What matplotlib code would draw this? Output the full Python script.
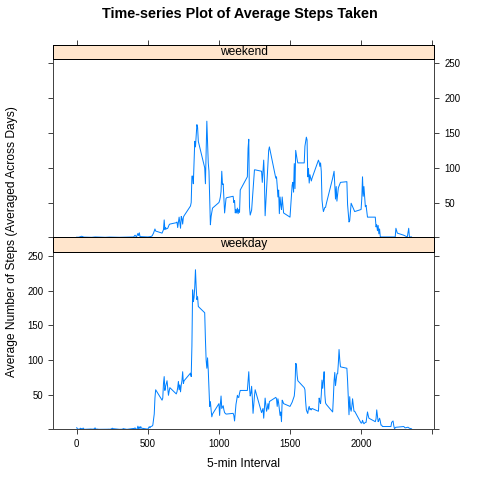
import numpy as np
import matplotlib
matplotlib.use("Agg")
import matplotlib.pyplot as plt

plt.rcParams['font.family'] = ['Liberation Sans', 'DejaVu Sans']

# average steps per 5-min interval
weekend_interval = [0, 10, 20, 35, 50, 105, 130, 200, 230, 300, 350, 400, 410, 420, 430, 435, 440, 445,
                    500, 520, 530, 540, 550, 555, 600, 610, 615, 620, 625, 630, 640, 650, 655,
                    700, 705, 710, 720, 730, 735, 740, 745, 750, 755, 800, 805, 810, 815, 820, 830, 835,
                    845, 850, 855, 900, 905, 910, 915, 925, 930, 940, 945, 955,
                    1000, 1005, 1010, 1015, 1020, 1025, 1030, 1040, 1050, 1055, 1100, 1105, 1110, 1115,
                    1120, 1125, 1130, 1135, 1140, 1145, 1150, 1200, 1205, 1210, 1215, 1220, 1230, 1250, 1255,
                    1300, 1305, 1315, 1320, 1325, 1330, 1350, 1355, 1400, 1405, 1410, 1415, 1420, 1425,
                    1430, 1435, 1440, 1445, 1450, 1455, 1500, 1515, 1520, 1525, 1530, 1535, 1540, 1545,
                    1550, 1555, 1600, 1605, 1615, 1620, 1625, 1630, 1635, 1640, 1650, 1655,
                    1700, 1705, 1710, 1715, 1720, 1725, 1730, 1735, 1740, 1745, 1750, 1755,
                    1800, 1810, 1820, 1825, 1830, 1840, 1855, 1900, 1905, 1915, 1920, 1930, 1945, 1955,
                    2000, 2005, 2010, 2015, 2020, 2030, 2035, 2045, 2100, 2105, 2110, 2115, 2120, 2125,
                    2130, 2135, 2140, 2200, 2240, 2245, 2255, 2300, 2325, 2335, 2340, 2355]
weekend_steps = [0.2, 0.0, 0.5, 1.5, 0.3, 0.0, 0.5, 0.0, 0.3, 0.0, 0.3, 0.5, 3.0, 0.5, 5.5, 2.5, 6.5, 1.0,
                 0.5, 1.0, 2.0, 6.0, 12.0, 9.0, 6.0, 11.0, 25.0, 11.0, 14.0, 12.0, 13.0, 18.0, 19.0,
                 21.0, 22.0, 14.0, 29.0, 13.0, 30.0, 27.0, 19.0, 29.0, 31.0, 45.0, 50.0, 88.0, 88.0, 77.0, 138.0, 130.0,
                 162.0, 158.0, 138.0, 100.0, 77.0, 125.0, 167.0, 107.0, 95.0, 18.0, 30.0, 42.0,
                 50.0, 53.0, 58.0, 66.0, 95.0, 76.0, 77.0, 35.0, 56.0, 57.0, 59.0, 50.0, 53.0, 35.0,
                 40.0, 35.0, 42.0, 34.0, 40.0, 36.0, 68.0, 87.0, 128.0, 141.0, 44.0, 32.0, 39.0, 97.0, 97.0,
                 95.0, 79.0, 111.0, 84.0, 31.0, 50.0, 125.0, 130.0, 85.0, 87.0, 74.0, 58.0, 68.0, 34.0,
                 58.0, 47.0, 40.0, 58.0, 47.0, 35.0, 29.0, 75.0, 79.0, 65.0, 106.0, 70.0, 125.0, 118.0,
                 112.0, 107.0, 107.0, 131.0, 144.0, 140.0, 87.0, 99.0, 78.0, 90.0, 81.0, 85.0,
                 111.0, 108.0, 102.0, 107.0, 95.0, 54.0, 44.0, 37.0, 40.0, 43.0, 43.0, 48.0,
                 85.0, 95.0, 55.0, 73.0, 52.0, 71.0, 79.0, 80.0, 47.0, 22.0, 24.0, 49.0, 42.0, 37.0,
                 40.0, 56.0, 87.0, 59.0, 73.0, 44.0, 46.0, 29.0, 29.0, 15.0, 18.0, 9.5, 17.0, 5.0,
                 12.0, 1.0, 0.5, 0.5, 0.5, 13.0, 6.0, 3.0, 0.5, 13.0, 0.5, 0.5]

weekday_interval = [0, 5, 10, 15, 20, 25, 30, 35, 40, 45, 50, 55, 100, 110, 115, 120, 125, 130, 135, 145, 155,
                    200, 215, 225, 230, 235, 240, 250, 255, 300, 320, 325, 330, 335, 340, 350, 355,
                    400, 405, 410, 415, 420, 425, 430, 435, 440, 445, 450, 455,
                    500, 505, 510, 515, 520, 525, 530, 535, 540, 545, 550, 555,
                    600, 605, 610, 615, 620, 625, 630, 635, 640, 645, 650, 655,
                    700, 705, 710, 715, 720, 725, 730, 735, 740, 745, 750, 755,
                    800, 805, 810, 815, 820, 825, 830, 835, 840, 845, 850, 855,
                    900, 905, 910, 915, 920, 925, 930, 935, 940, 945, 950, 955,
                    1000, 1005, 1010, 1015, 1020, 1025, 1030, 1035, 1040, 1045, 1050, 1055,
                    1100, 1105, 1110, 1115, 1120, 1125, 1130, 1135, 1140, 1145, 1150, 1155,
                    1200, 1205, 1210, 1215, 1220, 1225, 1230, 1235, 1240, 1245, 1250, 1255,
                    1300, 1305, 1310, 1315, 1320, 1325, 1330, 1335, 1340, 1345, 1350, 1355,
                    1400, 1405, 1410, 1415, 1420, 1425, 1430, 1435, 1440, 1445, 1450, 1455,
                    1500, 1505, 1510, 1515, 1520, 1525, 1530, 1535, 1540, 1545, 1550, 1555,
                    1600, 1605, 1610, 1615, 1620, 1625, 1630, 1635, 1640, 1645, 1650, 1655,
                    1700, 1705, 1710, 1715, 1720, 1725, 1730, 1735, 1740, 1745, 1750, 1755,
                    1800, 1805, 1810, 1815, 1820, 1825, 1830, 1835, 1840, 1845, 1850, 1855,
                    1900, 1905, 1910, 1915, 1920, 1925, 1930, 1935, 1940, 1945, 1950, 1955,
                    2000, 2005, 2010, 2015, 2020, 2025, 2030, 2035, 2040, 2045, 2050, 2055,
                    2100, 2105, 2110, 2115, 2120, 2125, 2130, 2135, 2140, 2145, 2150, 2155,
                    2200, 2210, 2215, 2225, 2230, 2235, 2245, 2250, 2300, 2310, 2320, 2330, 2340, 2355]
weekday_steps = [2.3, 0.4, 0.2, 0.2, 0.1, 1.6, 0.7, 1.1, 0.0, 1.8, 0.4, 0.0, 0.4, 0.2, 0.4, 0.0, 1.5, 1.9, 0.2, 0.3, 0.0,
                 0.0, 0.1, 0.2, 0.0, 0.4, 0.0, 1.6, 0.9, 0.0, 0.1, 0.7, 1.0, 0.5, 0.4, 0.0, 0.0,
                 1.2, 1.1, 2.1, 0.2, 0.4, 0.3, 4.5, 0.7, 3.5, 1.0, 3.9, 1.6,
                 0.2, 2.1, 3.8, 2.1, 3.9, 4.2, 4.6, 6.0, 14.0, 22.0, 45.0, 57.0,
                 42.0, 45.0, 66.0, 76.0, 56.0, 62.0, 66.0, 70.0, 60.0, 49.0, 55.0, 60.0,
                 51.0, 54.0, 60.0, 69.0, 57.0, 64.0, 54.0, 64.0, 70.0, 83.0, 66.0, 70.0,
                 81.0, 76.0, 120.0, 201.0, 184.0, 190.0, 205.0, 230.0, 205.0, 187.0, 191.0, 177.0,
                 168.0, 130.0, 100.0, 88.0, 103.0, 85.0, 60.0, 33.0, 40.0, 28.0, 18.0, 22.0,
                 37.0, 20.0, 36.0, 48.0, 30.0, 32.0, 34.0, 28.0, 24.0, 23.0, 22.0, 22.0,
                 23.0, 20.0, 12.0, 24.0, 36.0, 42.0, 49.0, 46.0, 46.0, 52.0, 56.0, 56.0,
                 56.0, 70.0, 83.0, 60.0, 48.0, 52.0, 62.0, 45.0, 23.0, 35.0, 48.0, 57.0,
                 24.0, 27.0, 30.0, 16.0, 30.0, 45.0, 35.0, 26.0, 30.0, 37.0, 29.0, 40.0,
                 46.0, 44.0, 33.0, 44.0, 38.0, 29.0, 20.0, 25.0, 11.0, 42.0, 40.0, 37.0,
                 33.0, 35.0, 37.0, 39.0, 42.0, 45.0, 48.0, 60.0, 95.0, 94.0, 78.0, 70.0,
                 60.0, 57.0, 40.0, 28.0, 25.0, 23.0, 30.0, 33.0, 28.0, 30.0, 28.0, 30.0,
                 26.0, 45.0, 40.0, 37.0, 50.0, 71.0, 59.0, 70.0, 83.0, 50.0, 38.0, 36.0,
                 25.0, 45.0, 70.0, 82.0, 63.0, 72.0, 80.0, 80.0, 95.0, 115.0, 100.0, 90.0,
                 88.0, 70.0, 45.0, 21.0, 47.0, 30.0, 26.0, 33.0, 44.0, 35.0, 26.0, 26.0,
                 9.0, 9.0, 13.0, 10.0, 8.0, 9.0, 10.0, 10.0, 18.0, 25.0, 20.0, 16.0,
                 11.0, 15.0, 28.0, 20.0, 11.0, 13.0, 16.0, 12.0, 6.0, 6.0, 4.0, 4.0,
                 4.0, 4.0, 10.0, 12.0, 5.0, 1.0, 3.0, 3.0, 4.0, 2.0, 2.5, 3.0, 1.5, 0.7]

panels = [("weekend", weekend_interval, weekend_steps),
          ("weekday", weekday_interval, weekday_steps)]

line_color = "#0080FF"
strip_color = "#FFE5CC"
frame_color = "#444444"
xlim = (-165, 2515)
ylim = (0, 256)
xticks = [0, 500, 1000, 1500, 2000, 2500]
xticklabels = ["0", "500", "1000", "1500", "2000", ""]
yticks = [0, 50, 100, 150, 200, 250]
yticklabels = ["", "50", "100", "150", "200", "250"]

W = H = 480.0
fig = plt.figure(figsize=(W / 72, H / 72), dpi=72)

left, right = 53.3, 434.3
# pixel rows (top, bottom) for strips and panels
rows = {"strip0": (44.7, 59.3), "panel0": (59.3, 237.3),
        "strip1": (237.3, 251.7), "panel1": (251.7, 429.3)}


def add_ax(top, bottom):
    return fig.add_axes([left / W, 1 - bottom / H, (right - left) / W, (bottom - top) / H])


for i, (name, xs, ys) in enumerate(panels):
    ax = add_ax(*rows["panel%d" % i])
    st = add_ax(*rows["strip%d" % i])

    ax.plot(xs, ys, color=line_color, lw=1.0)
    ax.set_xlim(xlim)
    ax.set_ylim(ylim)
    for s in ax.spines.values():
        s.set_color(frame_color)
        s.set_linewidth(1.0)
    ax.set_yticks(yticks)
    ax.tick_params(direction="out", length=5, width=1, color=frame_color,
                   labelsize=9.6, pad=5)
    ax.set_xticks(xticks)
    if i == 0:
        ax.tick_params(axis="x", bottom=False, labelbottom=False)
        ax.tick_params(axis="y", left=True, right=True, labelleft=False, labelright=True)
        ax.set_yticklabels(yticklabels)
    else:
        ax.set_xticklabels(xticklabels)
        ax.tick_params(axis="y", left=True, right=True, labelleft=True, labelright=False)
        ax.set_yticklabels(yticklabels)

    st.set_facecolor(strip_color)
    st.set_xlim(xlim)
    st.set_yticks([])
    for s in st.spines.values():
        s.set_color("black")
        s.set_linewidth(1.0)
    if i == 0:
        st.set_xticks(xticks)
        st.tick_params(axis="x", bottom=False, labelbottom=False, top=True, labeltop=False,
                       direction="out", length=5, width=1, color=frame_color)
    else:
        st.set_xticks([])
    st.text(0.5, 0.5, name, transform=st.transAxes, ha="center", va="center", fontsize=12)

fig.text(0.5, 1 - 14 / H, "Time-series Plot of Average Steps Taken",
         ha="center", va="center", fontsize=14.4, fontweight="bold")
fig.text((left + right) / 2 / W, 1 - 464 / H, "5-min Interval",
         ha="center", va="center", fontsize=12)
fig.text(12 / W, 1 - 242 / H, "Average Number of Steps (Averaged Across Days)",
         ha="center", va="center", rotation=90, fontsize=12)

fig.savefig("out.png", dpi=72)
